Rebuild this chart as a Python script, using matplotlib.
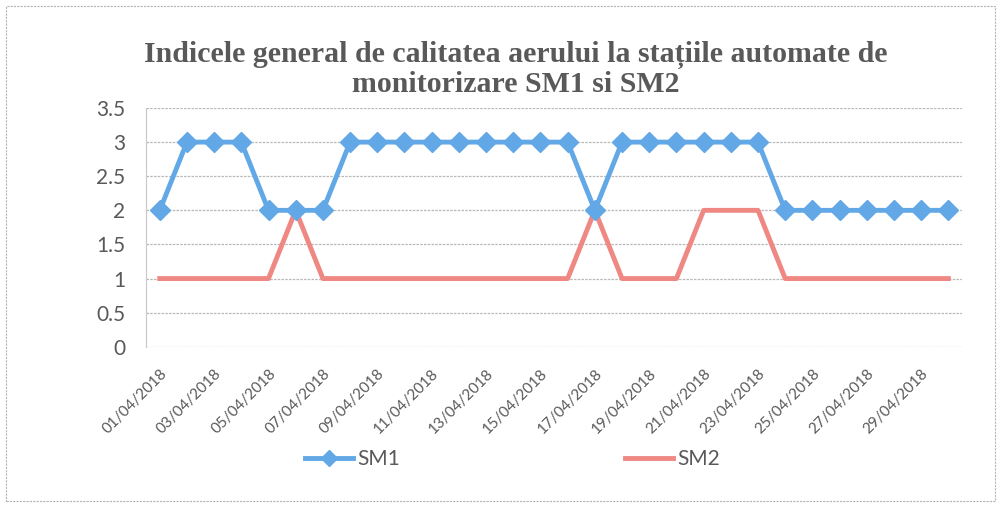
import matplotlib.pyplot as plt
from matplotlib.patches import Rectangle

days = ["{:02d}/04/2018".format(d) for d in range(1, 31)]
sm1 = [2, 3, 3, 3, 2, 2, 2, 3, 3, 3, 3, 3, 3, 3, 3, 3, 2, 3, 3, 3, 3, 3, 3, 2, 2, 2, 2, 2, 2, 2]
sm2 = [1, 1, 1, 1, 1, 2, 1, 1, 1, 1, 1, 1, 1, 1, 1, 1, 2, 1, 1, 1, 2, 2, 2, 1, 1, 1, 1, 1, 1, 1]
yticks = [0, 0.5, 1, 1.5, 2, 2.5, 3, 3.5]

blue = '#63A8E6'
red = '#EF8883'
grey_text = '#595959'

fig = plt.figure(figsize=(10.01, 5.07), dpi=100)
ax = fig.add_axes([0.146, 0.316, 0.815, 0.471])

x = list(range(len(days)))
ax.plot(x, sm1, color=blue, lw=3.5, marker='D', ms=10, mec=blue, mfc=blue, label='SM1', zorder=3)
ax.plot(x, sm2, color=red, lw=3.5, label='SM2', zorder=2)

ax.set_xlim(-0.5, len(days) - 0.5)
ax.set_ylim(0, 3.5)
ax.set_yticks(yticks)
ax.set_yticklabels([("%g" % v) for v in yticks], fontsize=15, color=grey_text, family='Lato')
ax.set_xticks(x[::2])
ax.set_xticklabels(days[::2], rotation=45, ha='right', rotation_mode='anchor',
                   fontsize=11, color=grey_text, family='Lato')
ax.tick_params(axis='y', length=0, pad=15)
ax.tick_params(axis='x', length=0, pad=14)
ax.grid(axis='y', color='#B8B8B8', lw=0.9, ls=(0, (2, 1)))
for s in ax.spines.values():
    s.set_visible(False)
ax.spines['left'].set_visible(True)
ax.spines['left'].set_color('#C8C8C8')
ax.spines['left'].set_linestyle((0, (2, 1)))

fig.suptitle("Indicele general de calitatea aerului la stațiile automate de\nmonitorizare SM1 si SM2",
             x=0.515, y=0.92, fontsize=21.5, fontweight='bold', family='Liberation Serif',
             color=grey_text, linespacing=1.1)

leg = fig.legend(loc='center', bbox_to_anchor=(0.512, 0.095), ncol=2, frameon=False,
                 columnspacing=10.8, handlelength=2.3, handletextpad=0.2, fontsize=15,
                 markerscale=0.8)
for t in leg.get_texts():
    t.set_color(grey_text)
    t.set_family('Lato')

fig.patches.append(Rectangle((0.006, 0.012), 0.988, 0.976, transform=fig.transFigure,
                             fill=False, ec='#B5B5B5', lw=0.8, ls=(0, (2, 1))))

fig.savefig('out.png', dpi=100)
